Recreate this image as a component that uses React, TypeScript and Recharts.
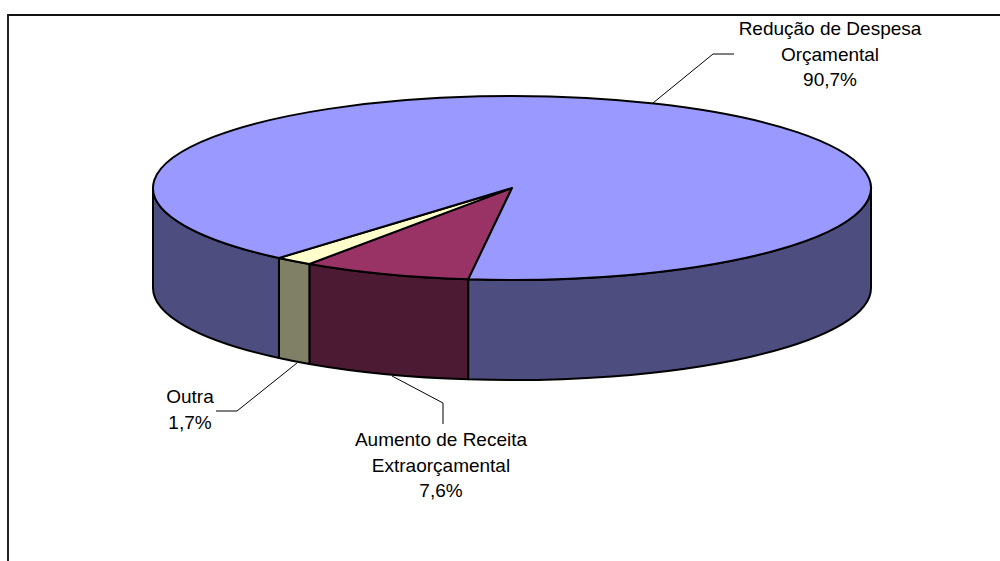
import React from 'react';
import { PieChart, Pie } from 'recharts';

const names = ['Aumento de Receita Extraorçamental', 'Outra', 'Redução de Despesa Orçamental'];
const shares = [7.6, 1.7, 90.7];
const shareLabels = ['7,6%', '1,7%', '90,7%'];
const topColors = ['#993366', '#FFFFCC', '#9999FF'];
const wallColors = ['#4D1A33', '#808066', '#4D4D80'];

const labelLines = [
  ['Aumento de Receita', 'Extraorçamental', '7,6%'],
  ['Outra', '1,7%'],
  ['Redução de Despesa', 'Orçamental', '90,7%']
];
const labelAnchors = [
  { x: 441, y: 446 },
  { x: 190, y: 403 },
  { x: 830, y: 35 }
];
const leaders = [
  '392,376 443,403 443,424',
  '297,363 237,411 216,411',
  '653,103 713,54 734,54'
];

const data = names.map((name, i) => ({
  name,
  value: shares[i],
  label: shareLabels[i],
  fill: topColors[i],
  wall: wallColors[i],
  index: i
}));

const WIDTH = 1000;
const HEIGHT = 561;
const SQUASH = 92 / 359;
const DEPTH = 100;

// Recharts only knows circles, so flatten its sector angles onto an ellipse and add the side wall
function Slice3D(props: any) {
  const { cx, cy, outerRadius, startAngle, endAngle, fill, payload } = props;
  const rx = outerRadius;
  const ry = outerRadius * SQUASH;
  const a = -startAngle;
  const b = -endAngle;
  const pt = (deg: number, dy = 0) => {
    const t = (deg * Math.PI) / 180;
    return `${cx + rx * Math.cos(t)} ${cy + ry * Math.sin(t) + dy}`;
  };

  // Only the part of the rim facing the viewer has a wall
  const walls: [number, number][] = [];
  for (let k = 0; k < 2; k++) {
    const from = Math.max(a, k * 360);
    const to = Math.min(b, k * 360 + 180);
    if (to > from) walls.push([from, to]);
  }

  return (
    <g>
      {walls.map(([from, to]) => (
        <path
          key={from}
          d={`M ${pt(from)} A ${rx} ${ry} 0 0 1 ${pt(to)} L ${pt(to, DEPTH)} A ${rx} ${ry} 0 0 0 ${pt(from, DEPTH)} Z`}
          fill={payload?.wall ?? props.wall}
          stroke="#000"
          strokeWidth={2}
          strokeLinejoin="round"
        />
      ))}
      <path
        d={`M ${cx} ${cy} L ${pt(a)} A ${rx} ${ry} 0 ${b - a > 180 ? 1 : 0} 1 ${pt(b)} Z`}
        fill={fill}
        stroke="#000"
        strokeWidth={2}
        strokeLinejoin="round"
      />
    </g>
  );
}

function SliceLabel(props: any) {
  const i = props.index;
  const anchor = labelAnchors[i];
  return (
    <text
      x={anchor.x}
      y={anchor.y}
      textAnchor="middle"
      fontFamily="Liberation Sans, Arial, sans-serif"
      fontSize={19}
      fill="#000"
    >
      {labelLines[i].map((line, n) => (
        <tspan key={line} x={anchor.x} dy={n === 0 ? 0 : 25.5}>
          {line}
        </tspan>
      ))}
    </text>
  );
}

function SliceLeader(props: any) {
  return <polyline points={leaders[props.index]} fill="none" stroke="#000" strokeWidth={1} />;
}

export default function App() {
  return (
    <div style={{ position: 'absolute', left: 0, top: 0, width: WIDTH, height: HEIGHT, background: '#fff', overflow: 'hidden' }}>
      <div style={{ position: 'absolute', left: 7, top: 14, right: 0, height: 2, background: '#111' }} />
      <div style={{ position: 'absolute', left: 7, top: 14, bottom: 0, width: 2, background: '#222' }} />
      <PieChart width={WIDTH} height={HEIGHT} margin={{ top: 0, right: 0, bottom: 0, left: 0 }}>
        <Pie
          data={data}
          dataKey="value"
          nameKey="name"
          cx={512}
          cy={188}
          innerRadius={0}
          outerRadius={359}
          startAngle={-97}
          endAngle={-457}
          stroke="#000"
          shape={Slice3D}
          label={SliceLabel}
          labelLine={SliceLeader}
          isAnimationActive={false}
        />
      </PieChart>
    </div>
  );
}
